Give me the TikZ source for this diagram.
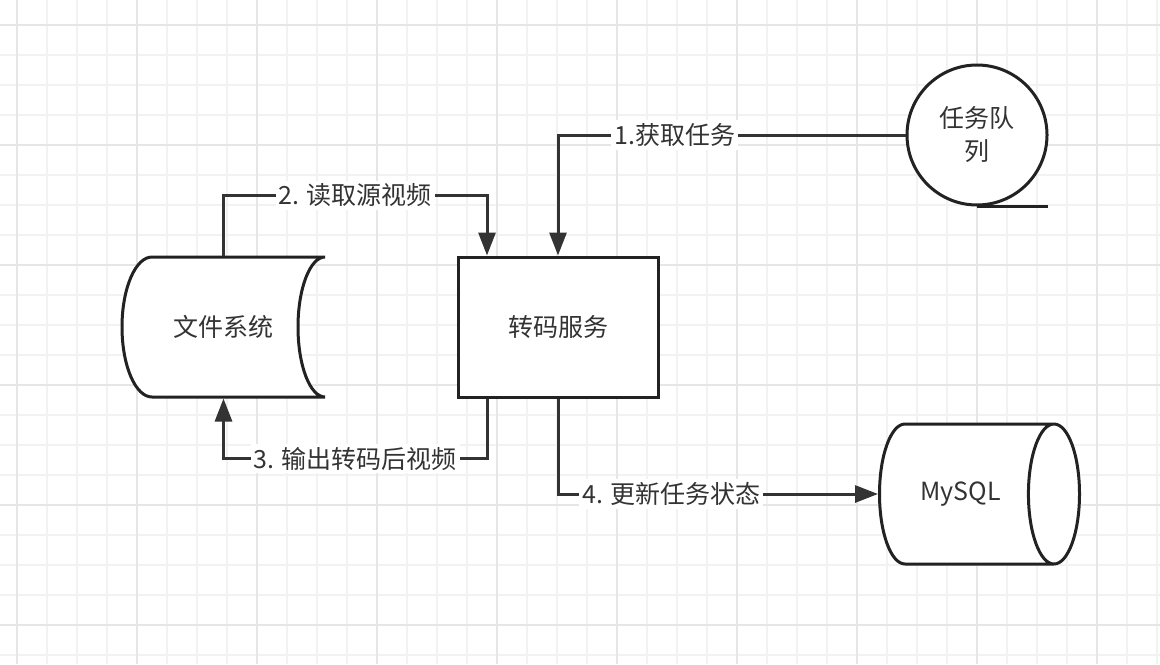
\documentclass[tikz,border=0pt]{standalone}
\usepackage{fontspec}
\setmainfont{Noto Sans CJK SC}
\usetikzlibrary{shapes.geometric,arrows.meta,positioning}
\definecolor{gridminor}{HTML}{F2F2F2}
\definecolor{gridmajor}{HTML}{E6E6E6}
\definecolor{ink}{HTML}{222222}
\definecolor{wire}{HTML}{333333}
\definecolor{txt}{HTML}{333333}

\begin{document}
\begin{tikzpicture}[x=0.5pt,y=-0.5pt,line width=1.5pt,
        font=\fontsize{12.5}{16.5}\selectfont,text=txt,
        shapeline/.style={draw=ink,fill=white},
        flow/.style={draw=wire,-{Triangle[width=8.5pt,length=11.5pt]}},
        lbl/.style={fill=white,inner sep=1.5pt,text=txt}]
            % background grid
            \fill[white] (0,0) rectangle (1160,664);
            \useasboundingbox (0,0) rectangle (1160,664);
            \foreach \x in {17,47,...,1157}
                \draw[gridminor,line width=1pt] (\x,0) -- (\x,664);
            \foreach \y in {25,55,...,655}
                \draw[gridminor,line width=1pt] (0,\y) -- (1160,\y);
            \foreach \x in {17,137,...,1157}
                \draw[gridmajor,line width=1pt] (\x,0) -- (\x,664);
            \foreach \y in {25,145,...,655}
                \draw[gridmajor,line width=1pt] (0,\y) -- (1160,\y);

            % stored data shape
            \coordinate (fs_c) at (223.5,327);
            \draw[shapeline] ([shift={(-71.5,-70)}]fs_c) -- ([shift={(101.5,-70)}]fs_c)
                arc[start angle=90,end angle=270,x radius=13.5pt,y radius=35pt]
                -- ([shift={(-71.5,70)}]fs_c)
                arc[start angle=270,end angle=90,x radius=15pt,y radius=35pt] -- cycle;
            \node[minimum width=101.5pt,minimum height=70pt,inner sep=0pt] (fs) at (fs_c) {文件系统};

            \node[shapeline,minimum width=100pt,minimum height=70pt] (job) at (558,327) {转码服务};
            \node[shapeline,circle,minimum size=70pt,align=center,inner sep=0pt] (queue) at (977,135) {任务队\\列};
            \draw[ink] (queue.south) -- ++(71,0);
            \node[shapeline,cylinder,minimum width=70pt,minimum height=100pt,aspect=1.35,anchor=west] (db) at (878,494) {MySQL};

            \coordinate (job_in) at ([xshift=-35.5pt]job.north);
            \coordinate (job_out) at ([xshift=-35.5pt]job.south);

            \draw[flow] (queue.west) -| (job.north) node[lbl,pos=0.332] {1.获取任务};
            \draw[flow] (fs.north) -- ++(0,-60) -| (job_in) node[lbl,pos=0.25] {2. 读取源视频};
            \draw[flow] (job_out) -- ++(0,60) -| (fs.south) node[lbl,pos=0.25] {3. 输出转码后视频};
            \draw[flow] (job.south) |- (db.west) node[lbl,pos=0.677] {4. 更新任务状态};
        \end{tikzpicture}
\end{document}
